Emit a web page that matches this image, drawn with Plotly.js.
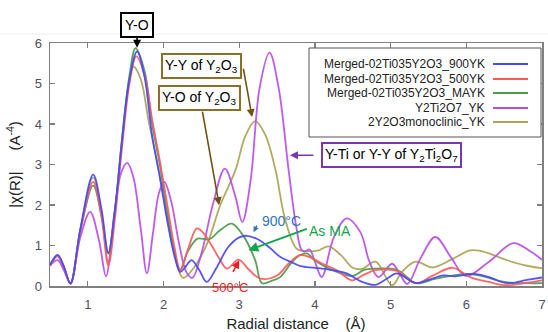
<!DOCTYPE html>
<html>
<head>
<meta charset="utf-8">
<script src="https://cdn.plot.ly/plotly-3.0.1.min.js"></script>
<style>html,body{margin:0;padding:0;background:#fff;}#chart{width:548px;height:332px;}</style>
</head>
<body>
<div id="chart"></div>
<script>
// ---- data ----
const seriesNames = ['Merged-02Ti035Y2O3_900YK','Merged-02Ti035Y2O3_500YK','Merged-02Ti035Y2O3_MAYK','Y2Ti2O7_YK','2Y2O3monoclinic_YK'];
const xTicks = [1,2,3,4,5,6,7];
const yTicks = [0,1,2,3,4,5,6];

const r900 = [0.5,0.6,0.68,0.77,0.9,1.07,1.18,1.27,1.36,1.45,1.55,1.65,1.75,1.85,1.95,2.05,2.15,2.22,2.3,2.37,2.47,2.57,2.7,2.85,3.0,3.1,3.25,3.4,3.54,3.7,3.81,4.0,4.2,4.42,4.6,4.8,4.95,5.08,5.2,5.33,5.5,5.7,5.85,6.1,6.3,6.54,6.8,7.0];
const chi900 = [0.52,0.77,0.5,0.06,1.4,2.75,1.9,0.82,1.9,3.55,5.1,5.79,5.15,3.7,2.7,1.6,0.7,0.35,0.5,0.64,0.4,0.1,0.45,0.95,1.2,1.24,1.15,0.95,0.72,0.58,0.49,0.45,0.4,0.31,0.12,0.03,0.18,0.31,0.2,0.07,0.15,0.26,0.24,0.3,0.22,0.07,0.15,0.21];

const r500 = [0.5,0.6,0.68,0.77,0.9,1.07,1.18,1.27,1.36,1.45,1.55,1.64,1.75,1.85,1.95,2.05,2.15,2.22,2.33,2.44,2.53,2.62,2.73,2.84,2.99,3.13,3.28,3.5,3.65,3.8,3.92,4.1,4.29,4.49,4.65,4.8,5.0,5.1,5.33,5.55,5.82,6.05,6.3,6.52,6.8,7.0];
const chi500 = [0.5,0.74,0.48,0.06,1.35,2.57,1.7,0.51,1.7,3.4,5.0,5.67,5.2,4.1,3.1,2.0,0.9,0.39,0.95,1.42,1.3,1.05,0.7,0.43,0.65,0.4,0.18,0.26,0.55,0.76,0.72,0.55,0.39,0.14,0.28,0.39,0.4,0.36,0.07,0.25,0.45,0.22,0.1,0.02,0.08,0.14];

const rMA = [0.5,0.6,0.68,0.77,0.9,1.07,1.18,1.27,1.36,1.45,1.55,1.63,1.75,1.85,1.95,2.05,2.15,2.22,2.32,2.45,2.6,2.75,2.9,3.05,3.21,3.3,3.42,3.54,3.68,3.8,3.9,4.0,4.29,4.5,4.65,4.8,5.08,5.2,5.33,5.6,6.0,6.2,6.5,6.8,7.0];
const chiMA = [0.52,0.75,0.48,0.06,1.35,2.48,1.75,0.8,1.9,3.6,5.2,5.87,5.3,4.0,3.0,1.8,0.8,0.4,0.85,1.17,1.15,1.38,1.54,1.25,0.64,0.07,0.12,0.22,0.55,0.76,0.8,0.63,0.35,0.25,0.4,0.43,0.4,0.25,0.07,0.18,0.3,0.25,0.1,0.07,0.07];

const rPyro = [0.5,0.6,0.68,0.77,0.9,1.03,1.15,1.24,1.35,1.44,1.52,1.6,1.7,1.78,1.86,1.94,2.01,2.1,2.2,2.3,2.38,2.5,2.65,2.81,2.95,3.04,3.15,3.27,3.4,3.52,3.65,3.75,3.82,3.86,3.93,4.0,4.09,4.25,4.42,4.6,4.72,4.84,5.02,5.12,5.22,5.4,5.59,5.8,5.99,6.3,6.62,6.85,7.0];
const chiPyro = [0.5,0.64,0.4,0.08,1.2,1.83,1.1,0.24,1.8,2.8,3.04,2.7,1.4,0.31,1.3,2.3,2.57,2.1,1.1,0.35,0.2,0.8,2.0,2.9,2.2,1.58,2.6,4.9,5.76,4.9,2.9,1.5,0.9,0.85,0.9,0.6,0.22,1.2,1.67,1.33,0.6,0.22,0.55,0.3,0.05,0.7,1.21,0.7,0.25,0.6,1.06,0.85,0.65];

const rMono = [0.5,0.6,0.68,0.77,0.9,1.07,1.18,1.27,1.36,1.45,1.53,1.6,1.7,1.8,1.9,2.0,2.12,2.26,2.4,2.5,2.6,2.75,2.95,3.08,3.21,3.34,3.48,3.6,3.76,3.9,4.05,4.18,4.35,4.5,4.62,4.8,5.02,5.15,5.33,5.55,5.8,6.05,6.2,6.55,6.8,7.0];
const chiMono = [0.5,0.74,0.48,0.05,1.4,2.68,1.8,0.6,1.9,3.6,4.9,5.42,5.1,4.1,3.2,2.2,1.0,0.2,0.45,0.75,1.15,2.0,2.86,3.7,4.07,3.75,2.86,1.7,0.92,0.86,0.88,0.98,0.75,0.45,0.42,0.6,0.02,0.35,0.6,0.46,0.65,0.88,0.86,0.63,0.5,0.44];

const colors = ['#4646ff','#ff5a5a','#4c9a4c','#b84de8','#aaa454'];

// ---- build ----
const W = 548, H = 332, ML = 50, MR = 6, MT = 43, MB = 46;
const PW = W - ML - MR, PH = H - MT - MB;
const px = x => (x - ML) / PW;
const py = y => (H - MB - y) / PH;

const xs = [r900, r500, rMA, rPyro, rMono];
const ys = [chi900, chi500, chiMA, chiPyro, chiMono];
const drawOrder = [4, 3, 2, 1, 0];
const traces = drawOrder.map(i => ({
  x: xs[i], y: ys[i], type: 'scatter', mode: 'lines', name: seriesNames[i],
  line: {color: colors[i], width: 1.8, shape: 'spline', smoothing: 1},
  opacity: 0.92, showlegend: false, hoverinfo: 'skip'
}));

const FONT = 'Liberation Sans, Arial, sans-serif';
const nb = n => '\u00a0'.repeat(n);

const shapes = [
  {type: 'line', xref: 'paper', yref: 'paper', x0: px(0), x1: px(548), y0: py(34), y1: py(34), line: {color: '#ececec', width: 1}},
  {type: 'rect', xref: 'paper', yref: 'paper', x0: px(309), x1: px(541), y0: py(48), y1: py(137), line: {color: '#555', width: 1}, fillcolor: '#fff', layer: 'above'}
];
const annotations = [];
const rowY = [64, 79, 93, 108, 122];
seriesNames.forEach((nm, i) => {
  annotations.push({xref: 'paper', yref: 'paper', x: px(487), y: py(rowY[i]), xanchor: 'right', yanchor: 'middle',
    text: nm, showarrow: false, font: {family: FONT, size: 12, color: '#222'}});
  shapes.push({type: 'line', xref: 'paper', yref: 'paper', x0: px(493), x1: px(528), y0: py(rowY[i]), y1: py(rowY[i]),
    line: {color: colors[i], width: 1.8}, layer: 'above'});
});

const brown = '#8c7028', brownArrow = '#6e5414', purple = '#7a35b0';
const box = (cx, cy, text, border) => ({xref: 'paper', yref: 'paper', x: px(cx), y: py(cy), xanchor: 'center', yanchor: 'middle',
  text: text, showarrow: false, bgcolor: '#fff', bordercolor: border, borderwidth: 2, borderpad: 2,
  font: {family: FONT, size: 14, color: '#000'}});
const label = (cx, cy, text, color, size) => ({xref: 'paper', yref: 'paper', x: px(cx), y: py(cy), xanchor: 'center', yanchor: 'middle',
  text: text, showarrow: false, font: {family: FONT, size: size || 14, color: color}});
const arrow = (x, y, ax, ay, color, w, s) => ({xref: 'x', yref: 'y', x: x, y: y, ax: ax, ay: ay, text: '', showarrow: true,
  arrowhead: 2, arrowsize: s || 1, arrowwidth: w || 1.6, arrowcolor: color});

// Y-O box with arrow
annotations.push({xref: 'x', yref: 'y', x: 1.65, y: 5.88, ax: 0, ay: -23, text: 'Y-O', showarrow: true,
  arrowhead: 2, arrowsize: 1, arrowwidth: 1.6, arrowcolor: '#000', bgcolor: '#fff', bordercolor: '#000', borderwidth: 2, borderpad: 3,
  font: {family: FONT, size: 14, color: '#000'}});
annotations.push(box(201, 65.5, 'Y-Y of Y<sub>2</sub>O<sub>3</sub>', brown));
annotations.push(arrow(3.17, 4.17, -9, -50, brownArrow));
annotations.push(box(199, 98, 'Y-O of Y<sub>2</sub>O<sub>3</sub>', brown));
annotations.push(arrow(2.735, 1.995, -17, -95, brownArrow));
annotations.push(box(391.5, 154.5, 'Y-Ti or Y-Y of Y<sub>2</sub>Ti<sub>2</sub>O<sub>7</sub>', purple));
annotations.push(arrow(3.67, 3.23, 25, 0, purple));
annotations.push(label(281, 221, '900°C', '#2f75b5'));
annotations.push(arrow(3.19, 1.33, 4, -8, '#2f75b5', 1.4, 0.8));
annotations.push(label(330, 231, 'As MA', '#12a54a'));
annotations.push(arrow(3.12, 0.88, 60, -22, '#12a54a', 2));
annotations.push(label(230, 287.5, '500°C', '#ff1a1a', 13));
annotations.push(arrow(3.0, 0.635, -7, 13, '#ff1a1a'));

const axisCommon = {
  showgrid: false, zeroline: false, showline: true, linecolor: '#808080', linewidth: 1.5,
  mirror: 'ticks', ticks: 'inside', ticklen: 5, tickwidth: 1.2, tickcolor: '#808080',
  tickfont: {family: FONT, size: 13, color: '#505060'}
};

const layout = {
  width: W, height: H,
  margin: {l: ML, r: MR, t: MT, b: MB, pad: 0},
  paper_bgcolor: '#fff', plot_bgcolor: '#fff',
  showlegend: false,
  xaxis: Object.assign({}, axisCommon, {range: [0.5, 7], tickvals: xTicks, ticktext: xTicks.map(String), ticklabelstandoff: 6,
    title: {text: 'Radial distance' + nb(4) + '(Å)', font: {family: FONT, size: 15, color: '#222'}, standoff: 9}}),
  yaxis: Object.assign({}, axisCommon, {range: [0, 6], tickvals: yTicks, ticktext: yTicks.map(String), ticklabelstandoff: 4,
    title: {text: '|χ(R)|' + nb(5) + '(A<sup>-4</sup>)', font: {family: FONT, size: 15, color: '#222'}, standoff: 10}}),
  shapes: shapes,
  annotations: annotations
};

Plotly.newPlot('chart', traces, layout, {displayModeBar: false, staticPlot: true});
</script>
</body>
</html>
